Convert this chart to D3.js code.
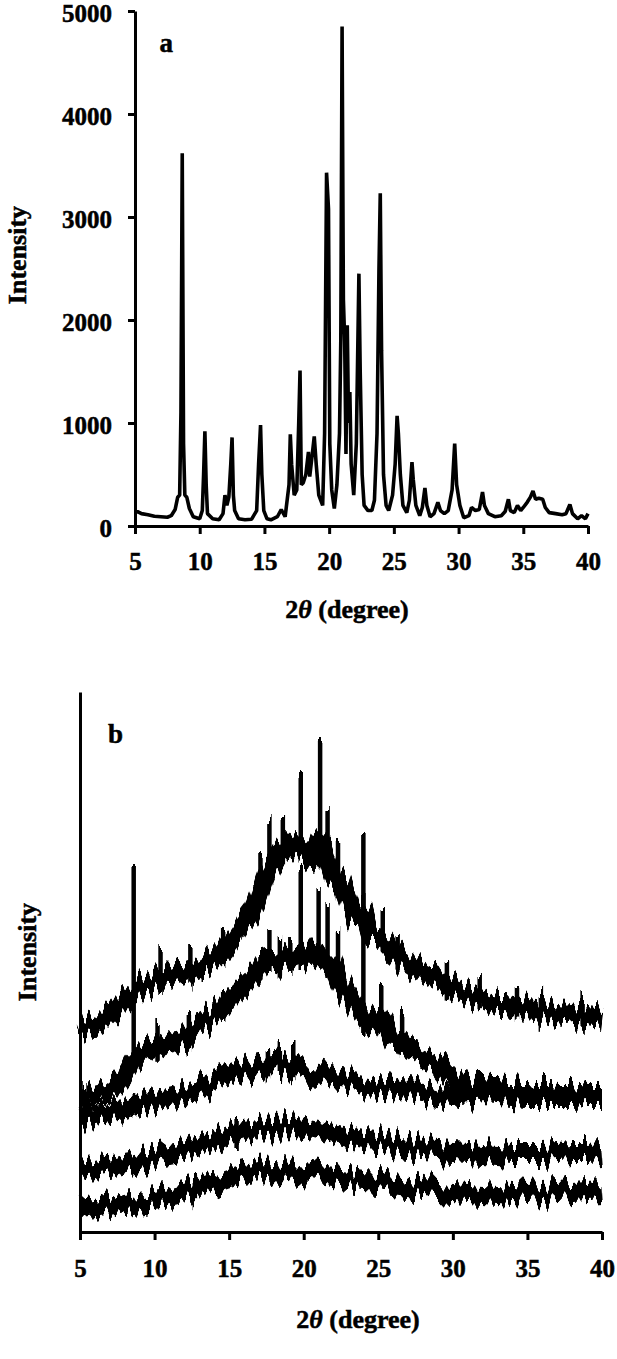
<!DOCTYPE html>
<html><head><meta charset="utf-8">
<script src="https://cdn.jsdelivr.net/npm/d3@7"></script>
<style>body{margin:0;background:#fff}svg{display:block}</style>
</head><body>
<svg id="c" width="617" height="1359"></svg>
<script>
// ---------- DATA ----------
const xTickValues = [5, 10, 15, 20, 25, 30, 35, 40];
const yTickValuesTop = [0, 1000, 2000, 3000, 4000, 5000];

// Panel a: crystalline pattern (2theta, intensity)
const topTheta = [5.0,5.2,5.5,6.0,6.5,7.0,7.5,7.8,8.1,8.3,8.45,8.55,8.65,8.75,8.85,9.0,9.2,9.5,10.0,10.2,10.3,10.4,10.5,10.6,11.0,11.5,11.8,11.95,12.1,12.25,12.4,12.5,12.6,12.7,13.0,13.5,14.0,14.4,14.55,14.7,14.8,14.95,15.2,15.5,16.0,16.3,16.6,16.9,17.0,17.1,17.3,17.5,17.65,17.75,17.85,18.0,18.2,18.4,18.5,18.7,18.85,19.0,19.2,19.5,19.65,19.8,19.95,20.05,20.2,20.4,20.6,20.8,20.9,21.0,21.1,21.2,21.3,21.4,21.5,21.6,21.7,21.9,22.1,22.3,22.4,22.55,22.7,23.0,23.3,23.5,23.7,23.85,23.95,24.05,24.2,24.4,24.6,24.9,25.1,25.25,25.35,25.5,25.7,26.0,26.2,26.4,26.5,26.7,27.0,27.2,27.4,27.55,27.8,28.1,28.4,28.6,28.9,29.2,29.5,29.7,29.85,30.1,30.4,30.8,31.0,31.3,31.6,31.85,32.0,32.3,32.8,33.3,33.6,33.85,34.0,34.3,34.55,34.8,35.0,35.3,35.55,35.75,35.95,36.2,36.5,36.7,37.0,37.5,38.0,38.3,38.6,38.8,39.2,39.5,39.8,40.0];
const topIntensity = [130,140,120,110,95,90,85,100,160,280,300,1100,3620,800,300,280,170,90,70,150,500,920,400,120,70,60,120,300,200,280,600,860,300,150,70,60,65,150,600,980,500,150,70,60,90,160,90,400,890,600,300,350,1000,1510,400,420,500,720,480,700,870,600,300,200,900,3430,3080,800,350,170,400,900,1800,4850,2200,1800,700,1950,1000,1300,600,300,800,2450,1500,500,200,150,150,250,900,2500,3230,1700,500,200,150,300,600,1070,900,500,200,130,250,620,450,200,100,180,370,200,90,120,230,150,120,150,350,800,400,200,80,100,180,150,160,330,200,120,90,100,140,260,150,130,200,150,180,230,280,340,260,270,260,180,130,120,110,120,210,120,70,100,70,120];

// Panel b: five stacked patterns (arbitrary intensity units)
const halfDegTheta = [5,5.5,6,6.5,7,7.5,8,8.5,9,9.5,10,10.5,11,11.5,12,12.5,13,13.5,14,14.5,15,15.5,16,16.5,17,17.5,18,18.5,19,19.5,20,20.5,21,21.5,22,22.5,23,23.5,24,24.5,25,25.5,26,26.5,27,27.5,28,28.5,29,29.5,30,30.5,31,31.5,32,32.5,33,33.5,34,34.5,35,35.5,36,36.5,37,37.5,38,38.5,39,39.5,40];
const oneDegTheta = [5,6,7,8,9,10,11,12,13,14,15,16,17,18,19,20,21,22,23,24,25,26,27,28,29,30,31,32,33,34,35,36,37,38,39,40];

const trace1 = [21.0,20.7,20.5,21.0,21.7,22.4,23.2,23.8,24.4,24.7,25.0,25.5,25.4,25.7,25.9,26.2,26.5,27.0,27.4,28.1,29.0,29.9,31.0,32.0,33.7,35.7,37.0,37.6,38.4,39.0,38.4,37.2,39.2,37.4,35.4,35.0,33.2,31.2,31.7,29.4,29.4,29.0,28.0,27.4,26.9,26.4,26.0,25.6,25.2,24.7,24.4,24.1,23.8,23.5,23.3,23.0,22.7,22.7,22.6,22.5,22.4,22.3,22.2,22.0,21.8,21.7,21.8,21.9,21.7,21.6,21.5];
const trace2 = [13.5,13.4,13.6,13.8,14.0,14.6,15.4,16.7,17.4,18.0,18.4,18.7,19.0,19.4,19.5,20.2,20.8,21.2,21.7,22.2,23.2,24.0,24.7,25.4,26.2,27.4,27.4,27.2,27.7,28.2,27.7,27.2,28.2,27.4,26.4,24.7,23.7,22.7,21.7,21.2,21.7,20.7,19.2,19.2,18.2,17.7,17.4,17.2,16.9,16.0,15.2,14.7,14.5,14.4,14.4,14.3,14.3,14.2,14.2,14.1,14.1,14.0,14.0,14.0,13.9,13.9,13.9,14.0,13.9,13.9,13.9];
const trace3 = [11.5,11.7,12.0,12.2,12.6,13.2,13.4,13.8,14.3,15.0,15.6,16.2,16.8,16.9,16.4,16.0,15.8,15.4,15.2,14.9,14.6,14.4,14.2,14.0,13.6,13.4,13.6,13.8,13.7,13.6,13.5,13.5,13.5,13.5,13.6,13.6];
const trace4 = [6.0,6.2,6.5,6.9,7.2,7.6,7.9,8.2,8.7,9.2,9.7,10.1,10.3,10.5,10.6,10.4,10.1,9.8,9.5,9.2,9.1,8.8,8.6,8.4,8.3,8.2,8.1,8.0,7.9,7.8,7.8,7.8,7.9,8.0,8.0,8.1];
const trace5 = [2.0,2.2,2.5,2.8,3.0,3.3,3.6,4.0,4.4,4.9,5.4,5.9,6.2,6.4,6.2,5.9,5.7,5.5,5.3,5.1,5.0,4.8,4.6,4.4,4.3,4.2,4.1,4.0,3.9,3.8,3.7,3.8,3.9,4.0,4.1,4.2];

const spikes1 = [[10.4,28.7],[12.4,28.7],[13.3,27.2],[14.6,30.4],[15.7,30.7],[17.1,37.5],[17.7,40.9],[18.6,40.9],[19.8,45.9],[21.1,49.4],[21.6,42.0],[22.3,39.2],[24.0,39.6],[25.3,32.2],[26.3,29.7],[29.6,27.0],[31.8,25.7],[34.3,24.5],[35.9,24.2],[38.7,23.5]];
const spikes2 = [[5.3,15.2],[8.6,36.7],[10.2,20.7],[12.3,22.0],[14.6,24.2],[17.1,28.2],[17.7,30.2],[18.4,30.0],[19.1,29.9],[19.8,36.2],[21.0,34.5],[21.6,33.0],[22.3,30.4],[24.0,33.9],[25.2,24.5],[26.6,21.7]];
const spikes3 = [[17.6,18.4],[18.4,18.5],[19.3,18.7]];
const spikes4 = [[15.5,11.4]];
const spikes5 = [[12.7,5.5]];

// ---------- DRAW ----------
const svg = d3.select('#c');
const FONT = '"Liberation Serif","Times New Roman",serif';

// noise texture filter for the amorphous traces (rendering style only)
const defs = svg.append('defs');
const flt = defs.append('filter').attr('id', 'jitter')
  .attr('filterUnits', 'userSpaceOnUse')
  .attr('x', 70).attr('y', 680).attr('width', 547).attr('height', 560)
  .attr('color-interpolation-filters', 'sRGB');
flt.append('feTurbulence').attr('type', 'fractalNoise')
  .attr('baseFrequency', '0.24 0.008').attr('numOctaves', 1).attr('seed', 7).attr('result', 't');
flt.append('feColorMatrix').attr('in', 't').attr('type', 'matrix')
  .attr('values', '0 0 0 0 0.5  0 1 0 0 0  0 0 0 0 0  0 0 0 0 1').attr('result', 'm');
flt.append('feDisplacementMap').attr('in', 'SourceGraphic').attr('in2', 'm')
  .attr('scale', 38).attr('xChannelSelector', 'R').attr('yChannelSelector', 'G');

function styleAxis(g) {
  g.select('.domain').attr('stroke', '#000').attr('stroke-width', 3);
  g.selectAll('.tick line').attr('stroke', '#000').attr('stroke-width', 3);
  g.selectAll('.tick text')
    .attr('font-family', FONT).attr('font-weight', 'bold').attr('font-size', 25)
    .attr('fill', '#000').attr('stroke', '#000').attr('stroke-width', 0.5);
}

function xTitle(x, y) {
  const t = svg.append('text').attr('x', x).attr('y', y)
    .attr('text-anchor', 'middle').attr('font-family', FONT)
    .attr('font-weight', 'bold').attr('font-size', 26)
    .attr('stroke', '#000').attr('stroke-width', 0.5);
  t.append('tspan').text('2');
  t.append('tspan').attr('font-style', 'italic').text('θ');
  t.append('tspan').text(' (degree)');
}
function yTitle(cx, cy) {
  svg.append('text').attr('transform', `translate(${cx},${cy}) rotate(-90)`)
    .attr('text-anchor', 'middle').attr('dominant-baseline', 'central')
    .attr('font-family', FONT).attr('font-weight', 'bold').attr('font-size', 26)
    .attr('stroke', '#000').attr('stroke-width', 0.5)
    .text('Intensity');
}

// ----- Panel a -----
const xTop = d3.scaleLinear().domain([5, 40]).range([135, 588]);
const yTop = d3.scaleLinear().domain([0, 5000]).range([526, 11]);

svg.append('path')
  .datum(topTheta.map((t, i) => [t, topIntensity[i]]))
  .attr('d', d3.line().x(d => xTop(d[0])).y(d => yTop(d[1])))
  .attr('fill', 'none').attr('stroke', '#000').attr('stroke-width', 3.6)
  .attr('stroke-linejoin', 'bevel');

svg.append('g').attr('transform', `translate(0,${yTop(0)})`)
  .call(d3.axisBottom(xTop).tickValues(xTickValues).tickSize(8).tickSizeOuter(0).tickPadding(18).tickFormat(d3.format('d')))
  .call(styleAxis);
const yAxTop = svg.append('g').attr('transform', `translate(${xTop(5)},0)`)
  .call(d3.axisLeft(yTop).tickValues(yTickValuesTop).tickSize(7).tickSizeOuter(0).tickPadding(16).tickFormat(d3.format('d')))
  .call(styleAxis);
yAxTop.selectAll('.tick text').attr('dy', '0.4em');

svg.append('text').attr('x', xTop(6.9)).attr('y', yTop(4600))
  .attr('font-family', FONT).attr('font-weight', 'bold').attr('font-size', 27)
  .attr('stroke', '#000').attr('stroke-width', 0.5).text('a');
xTitle(347, 618);
yTitle(17, 255);

// ----- Panel b -----
const xBot = d3.scaleLinear().domain([5, 40]).range([80, 602]);
const yBot = d3.scaleLinear().domain([0, 54]).range([1232, 692]);
const lineB = d3.line().x(d => xBot(d[0])).y(d => yBot(d[1]));

const traces = [
  { theta: halfDegTheta, v: trace1, spikes: spikes1 },
  { theta: halfDegTheta, v: trace2, spikes: spikes2 },
  { theta: oneDegTheta, v: trace3, spikes: spikes3 },
  { theta: oneDegTheta, v: trace4, spikes: spikes4 },
  { theta: oneDegTheta, v: trace5, spikes: spikes5 }
];

const gB = svg.append('g').attr('filter', 'url(#jitter)');
traces.forEach((tr) => {
  const pts = tr.theta.map((t, i) => [t, tr.v[i]]);
  gB.append('path').attr('d', lineB(pts)).attr('fill', 'none').attr('stroke', '#000')
    .attr('stroke-width', 18).attr('stroke-linejoin', 'round');
  const interp = t => {
    const i = d3.bisectLeft(tr.theta, t);
    if (i <= 0) return tr.v[0];
    const t0 = tr.theta[i - 1], t1 = tr.theta[i];
    const f = (t - t0) / (t1 - t0);
    return tr.v[i - 1] + f * (tr.v[i] - tr.v[i - 1]);
  };
  gB.selectAll(null).data(tr.spikes).enter().append('line')
    .attr('x1', s => xBot(s[0])).attr('x2', s => xBot(s[0]))
    .attr('y1', s => yBot(interp(s[0]) - 1.5)).attr('y2', s => yBot(s[1]))
    .attr('stroke', '#000').attr('stroke-width', 4.5);
});

svg.append('g').attr('transform', `translate(0,${yBot(0)})`)
  .call(d3.axisBottom(xBot).tickValues(xTickValues).tickSize(8).tickSizeOuter(0).tickPadding(19).tickFormat(d3.format('d')))
  .call(styleAxis);
svg.append('g').attr('transform', `translate(${xBot(5)},0)`)
  .call(d3.axisLeft(yBot).tickValues([]).tickSizeOuter(0))
  .call(styleAxis);

svg.append('text').attr('x', xBot(6.88)).attr('y', yBot(48.9))
  .attr('font-family', FONT).attr('font-weight', 'bold').attr('font-size', 27)
  .attr('stroke', '#000').attr('stroke-width', 0.5).text('b');
xTitle(358, 1328);
yTitle(27, 952);
</script>
</body></html>
